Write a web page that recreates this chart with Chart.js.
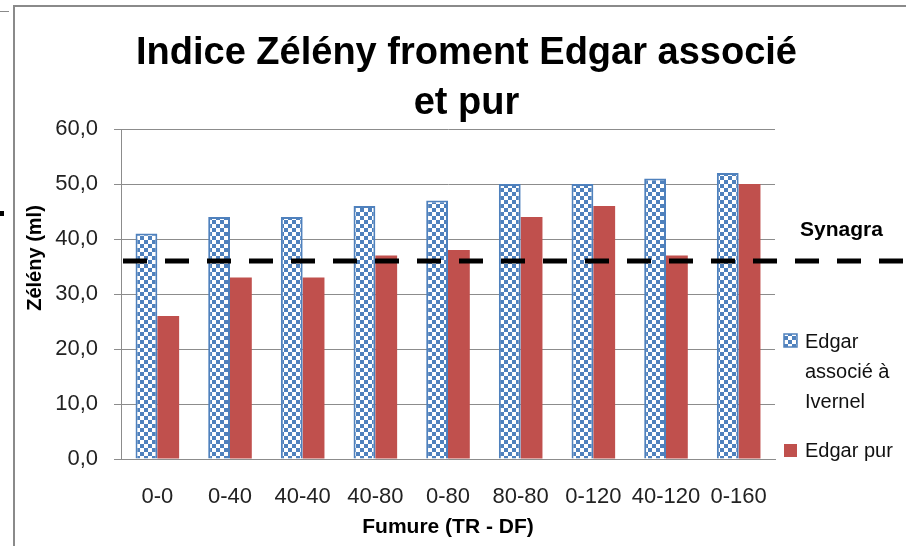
<!DOCTYPE html>
<html>
<head>
<meta charset="utf-8">
<script src="https://cdn.jsdelivr.net/npm/chart.js@4/dist/chart.umd.min.js"></script>
<style>
  html, body { margin: 0; padding: 0; background: #fff; }
  #wrap { width: 906px; height: 546px; }
</style>
</head>
<body>
<div id="wrap"><canvas id="chart" width="906" height="546"></canvas></div>
<script>
// données
const categories = ['0-0', '0-40', '40-40', '40-80', '0-80', '80-80', '0-120', '40-120', '0-160'];
const edgarAssocie = [41, 44, 44, 46, 47, 50, 50, 51, 52];
const edgarPur = [26, 33, 33, 37, 38, 44, 46, 37, 50];
const yTicks = [0, 10, 20, 30, 40, 50, 60];
const synagra = 36;

const BLUE = '#4F81BD';
const RED = '#C0504D';
const GRID = '#8c8c8c';
const FONT = "'Liberation Sans', Arial, sans-serif";

// motif damier pour la série "associé"
function checker() {
  const c = document.createElement('canvas');
  c.width = 8; c.height = 8;
  const g = c.getContext('2d');
  g.fillStyle = '#fff';
  g.fillRect(0, 0, 8, 8);
  g.fillStyle = BLUE;
  g.fillRect(0, 0, 4, 4);
  g.fillRect(4, 4, 4, 4);
  return g.createPattern(c, 'repeat');
}
const checkerFill = checker();

const fmt = v => v.toFixed(1).replace('.', ',');

const decor = {
  id: 'decor',
  beforeDraw(chart) {
    const ctx = chart.ctx;
    ctx.save();
    ctx.fillStyle = '#fff';
    ctx.fillRect(0, 0, chart.width, chart.height);
    // cadre de la capture
    ctx.fillStyle = '#8a8a8a';
    ctx.fillRect(14, 5, chart.width - 14, 2);
    ctx.fillRect(13, 5, 2, chart.height - 5);
    ctx.fillRect(0, 11, 9, 1);
    ctx.fillStyle = '#000';
    ctx.fillRect(0, 211, 4, 5);
    ctx.restore();
  },
  afterDatasetsDraw(chart) {
    const ctx = chart.ctx;
    const y = chart.scales.y.getPixelForValue(synagra);
    ctx.save();
    ctx.strokeStyle = '#000';
    ctx.lineWidth = 5;
    ctx.setLineDash([24, 18]);
    ctx.beginPath();
    ctx.moveTo(chart.chartArea.left + 2, y);
    ctx.lineTo(chart.width, y);
    ctx.stroke();
    ctx.setLineDash([]);

    ctx.fillStyle = '#000';
    ctx.font = 'bold 21px ' + FONT;
    ctx.textBaseline = 'alphabetic';
    ctx.textAlign = 'left';
    ctx.fillText('Synagra', 800, 236);

    // titre de l'axe Y
    ctx.save();
    ctx.translate(41, 258);
    ctx.rotate(-Math.PI / 2);
    ctx.textAlign = 'center';
    ctx.font = 'bold 20px ' + FONT;
    ctx.fillText('Zélény (ml)', 0, 0);
    ctx.restore();

    // légende
    ctx.font = '20px ' + FONT;
    ctx.fillStyle = checkerFill;
    ctx.fillRect(784, 334, 13, 13);
    ctx.strokeStyle = BLUE;
    ctx.lineWidth = 1.5;
    ctx.strokeRect(784, 334, 13, 13);
    ctx.fillStyle = '#111';
    ctx.fillText('Edgar', 805, 348);
    ctx.fillText('associé à', 805, 378);
    ctx.fillText('Ivernel', 805, 408);
    ctx.fillStyle = RED;
    ctx.fillRect(784, 444, 13, 13);
    ctx.fillStyle = '#111';
    ctx.fillText('Edgar pur', 805, 457);
    ctx.restore();
  }
};

new Chart(document.getElementById('chart'), {
  type: 'bar',
  data: {
    labels: categories,
    datasets: [
      {
        label: 'Edgar associé à Ivernel',
        data: edgarAssocie,
        backgroundColor: checkerFill,
        borderColor: BLUE,
        borderWidth: 2,
        categoryPercentage: 0.6,
        barPercentage: 1.0,
      },
      {
        label: 'Edgar pur',
        data: edgarPur,
        backgroundColor: RED,
        categoryPercentage: 0.6,
        barPercentage: 1.0,
      },
    ],
  },
  options: {
    responsive: false,
    animation: false,
    layout: { padding: { left: 27, right: 0, top: 0, bottom: 0 } },
    plugins: {
      legend: { display: false },
      tooltip: { enabled: false },
      title: {
        display: true,
        text: ['Indice Zélény froment Edgar associé', 'et pur'],
        color: '#000',
        font: { family: FONT, size: 38, weight: 'bold', lineHeight: 1.316 },
        padding: { top: 29, bottom: 0 },
      },
    },
    scales: {
      x: {
        grid: { display: false },
        border: { display: true, color: GRID },
        ticks: {
          color: '#222', padding: 17, maxRotation: 0, minRotation: 0, autoSkip: false,
          font: { family: FONT, size: 22 },
        },
        title: {
          display: true,
          text: 'Fumure (TR - DF)',
          color: '#000',
          font: { family: FONT, size: 21, weight: 'bold' },
          padding: { top: 0, bottom: 6 },
        },
        afterFit: s => { s.height = 87; },
      },
      y: {
        min: 0,
        max: 60,
        grid: { color: GRID, tickLength: 7, tickColor: GRID },
        border: { display: true, color: GRID },
        ticks: { color: '#222', padding: 16, font: { family: FONT, size: 22 }, callback: v => fmt(v) },
        afterBuildTicks: s => { s.ticks = yTicks.map(v => ({ value: v })); },
        afterFit: s => { s.width = 94; },
      },
      // axe vide à droite pour réserver la place de la légende
      yR: {
        position: 'right',
        min: 0,
        max: 1,
        grid: { display: false },
        border: { display: false },
        ticks: { display: false },
        afterFit: s => { s.width = 131; },
      },
    },
  },
  plugins: [decor],
});
</script>
</body>
</html>
